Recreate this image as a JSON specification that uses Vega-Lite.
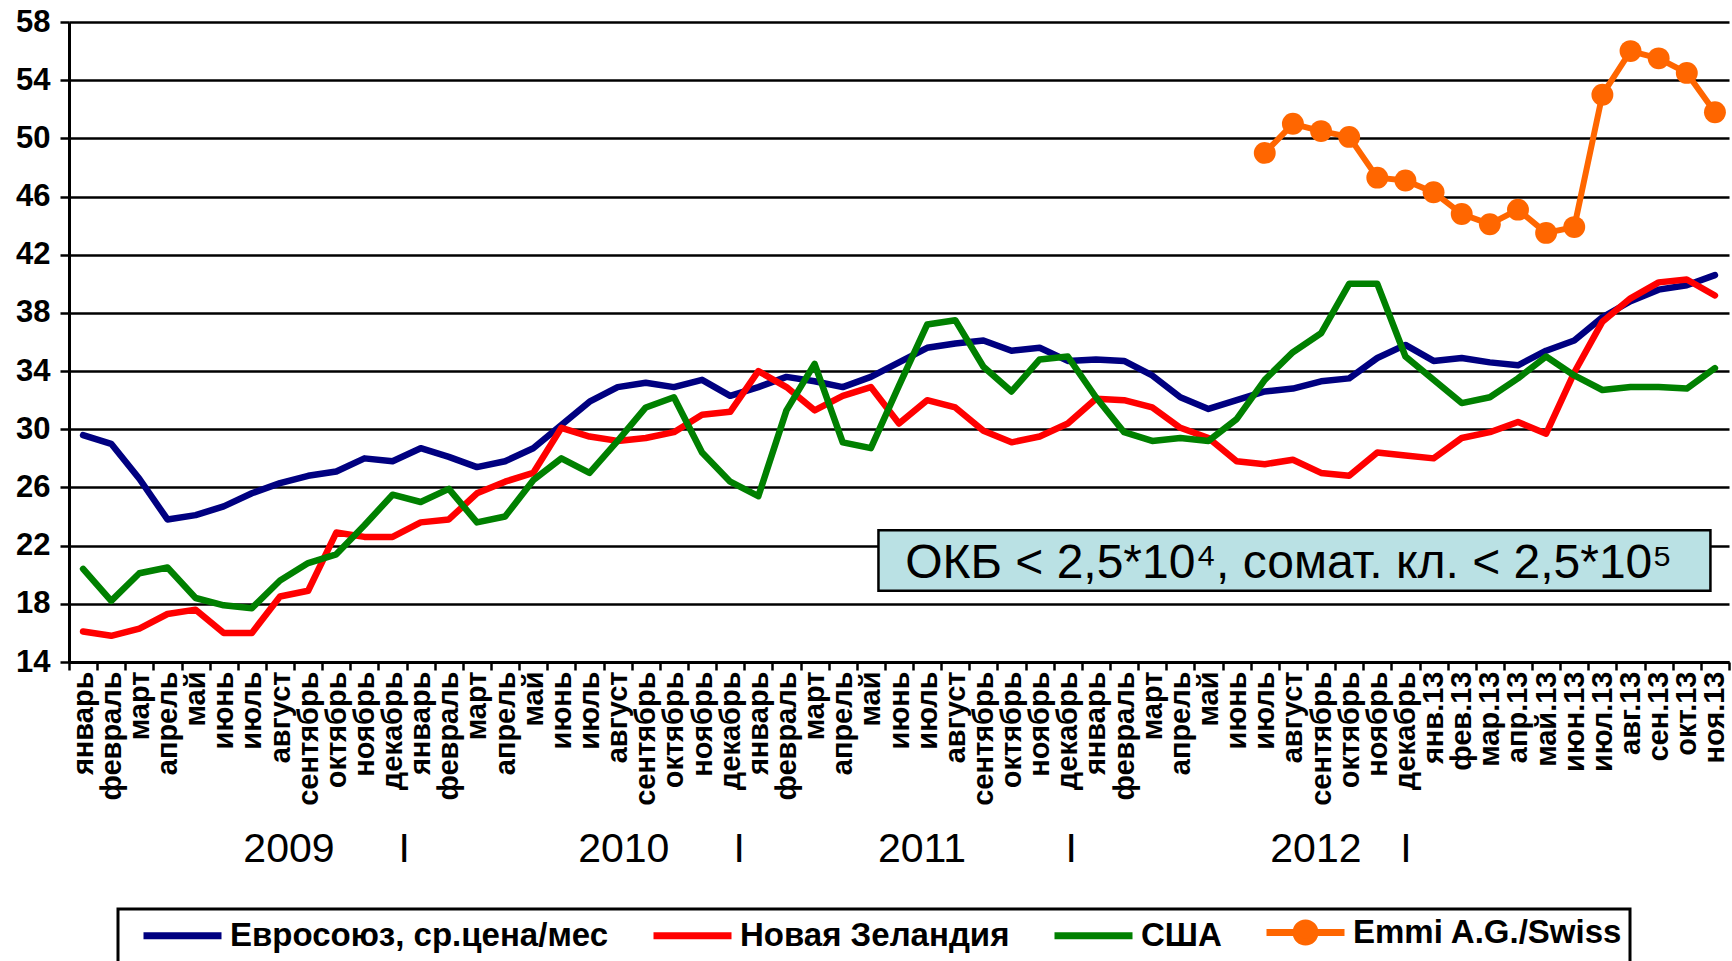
{
  "$schema": "https://vega.github.io/schema/vega-lite/v6.json",
  "width": 1660,
  "height": 640,
  "autosize": {"type": "none"},
  "padding": {"left": 69, "top": 22, "right": 3, "bottom": 299},
  "background": "white",
  "config": {"view": {"stroke": null}, "font": "Liberation Sans"},
  "datasets": {
    "eu": [
      {"i": 0, "month": "январь", "v": 29.6}, {"i": 1, "month": "февраль", "v": 29.0}, {"i": 2, "month": "март", "v": 26.6},
      {"i": 3, "month": "апрель", "v": 23.8}, {"i": 4, "month": "май", "v": 24.1}, {"i": 5, "month": "июнь", "v": 24.7},
      {"i": 6, "month": "июль", "v": 25.6}, {"i": 7, "month": "август", "v": 26.3}, {"i": 8, "month": "сентябрь", "v": 26.8},
      {"i": 9, "month": "октябрь", "v": 27.1}, {"i": 10, "month": "ноябрь", "v": 28.0}, {"i": 11, "month": "декабрь", "v": 27.8},
      {"i": 12, "month": "январь", "v": 28.7}, {"i": 13, "month": "февраль", "v": 28.1}, {"i": 14, "month": "март", "v": 27.4},
      {"i": 15, "month": "апрель", "v": 27.8}, {"i": 16, "month": "май", "v": 28.7}, {"i": 17, "month": "июнь", "v": 30.3},
      {"i": 18, "month": "июль", "v": 31.9}, {"i": 19, "month": "август", "v": 32.9}, {"i": 20, "month": "сентябрь", "v": 33.2},
      {"i": 21, "month": "октябрь", "v": 32.9}, {"i": 22, "month": "ноябрь", "v": 33.4}, {"i": 23, "month": "декабрь", "v": 32.3},
      {"i": 24, "month": "январь", "v": 32.9}, {"i": 25, "month": "февраль", "v": 33.6}, {"i": 26, "month": "март", "v": 33.3},
      {"i": 27, "month": "апрель", "v": 32.9}, {"i": 28, "month": "май", "v": 33.6}, {"i": 29, "month": "июнь", "v": 34.6},
      {"i": 30, "month": "июль", "v": 35.6}, {"i": 31, "month": "август", "v": 35.9}, {"i": 32, "month": "сентябрь", "v": 36.1},
      {"i": 33, "month": "октябрь", "v": 35.4}, {"i": 34, "month": "ноябрь", "v": 35.6}, {"i": 35, "month": "декабрь", "v": 34.7},
      {"i": 36, "month": "январь", "v": 34.8}, {"i": 37, "month": "февраль", "v": 34.7}, {"i": 38, "month": "март", "v": 33.7},
      {"i": 39, "month": "апрель", "v": 32.2}, {"i": 40, "month": "май", "v": 31.4}, {"i": 41, "month": "июнь", "v": 32.0},
      {"i": 42, "month": "июль", "v": 32.6}, {"i": 43, "month": "август", "v": 32.8}, {"i": 44, "month": "сентябрь", "v": 33.3},
      {"i": 45, "month": "октябрь", "v": 33.5}, {"i": 46, "month": "ноябрь", "v": 34.9}, {"i": 47, "month": "декабрь", "v": 35.8},
      {"i": 48, "month": "янв.13", "v": 34.7}, {"i": 49, "month": "фев.13", "v": 34.9}, {"i": 50, "month": "мар.13", "v": 34.6},
      {"i": 51, "month": "апр.13", "v": 34.4}, {"i": 52, "month": "май.13", "v": 35.4}, {"i": 53, "month": "июн.13", "v": 36.1},
      {"i": 54, "month": "июл.13", "v": 37.7}, {"i": 55, "month": "авг.13", "v": 38.8}, {"i": 56, "month": "сен.13", "v": 39.6},
      {"i": 57, "month": "окт.13", "v": 39.9}, {"i": 58, "month": "ноя.13", "v": 40.6}
    ],
    "nz": [
      {"i": 0, "v": 16.1}, {"i": 1, "v": 15.8}, {"i": 2, "v": 16.3}, {"i": 3, "v": 17.3}, {"i": 4, "v": 17.6},
      {"i": 5, "v": 16.0}, {"i": 6, "v": 16.0}, {"i": 7, "v": 18.5}, {"i": 8, "v": 18.9}, {"i": 9, "v": 22.9},
      {"i": 10, "v": 22.6}, {"i": 11, "v": 22.6}, {"i": 12, "v": 23.6}, {"i": 13, "v": 23.8}, {"i": 14, "v": 25.6},
      {"i": 15, "v": 26.4}, {"i": 16, "v": 27.0}, {"i": 17, "v": 30.1}, {"i": 18, "v": 29.5}, {"i": 19, "v": 29.2},
      {"i": 20, "v": 29.4}, {"i": 21, "v": 29.8}, {"i": 22, "v": 31.0}, {"i": 23, "v": 31.2}, {"i": 24, "v": 34.0},
      {"i": 25, "v": 32.9}, {"i": 26, "v": 31.3}, {"i": 27, "v": 32.3}, {"i": 28, "v": 32.9}, {"i": 29, "v": 30.4},
      {"i": 30, "v": 32.0}, {"i": 31, "v": 31.5}, {"i": 32, "v": 29.9}, {"i": 33, "v": 29.1}, {"i": 34, "v": 29.5},
      {"i": 35, "v": 30.4}, {"i": 36, "v": 32.1}, {"i": 37, "v": 32.0}, {"i": 38, "v": 31.5}, {"i": 39, "v": 30.1},
      {"i": 40, "v": 29.4}, {"i": 41, "v": 27.8}, {"i": 42, "v": 27.6}, {"i": 43, "v": 27.9}, {"i": 44, "v": 27.0},
      {"i": 45, "v": 26.8}, {"i": 46, "v": 28.4}, {"i": 47, "v": 28.2}, {"i": 48, "v": 28.0}, {"i": 49, "v": 29.4},
      {"i": 50, "v": 29.8}, {"i": 51, "v": 30.5}, {"i": 52, "v": 29.7}, {"i": 53, "v": 33.9}, {"i": 54, "v": 37.4},
      {"i": 55, "v": 39.0}, {"i": 56, "v": 40.1}, {"i": 57, "v": 40.3}, {"i": 58, "v": 39.2}
    ],
    "us": [
      {"i": 0, "v": 20.4}, {"i": 1, "v": 18.2}, {"i": 2, "v": 20.1}, {"i": 3, "v": 20.5}, {"i": 4, "v": 18.4},
      {"i": 5, "v": 17.9}, {"i": 6, "v": 17.7}, {"i": 7, "v": 19.6}, {"i": 8, "v": 20.8}, {"i": 9, "v": 21.4},
      {"i": 10, "v": 23.4}, {"i": 11, "v": 25.5}, {"i": 12, "v": 25.0}, {"i": 13, "v": 25.9}, {"i": 14, "v": 23.6},
      {"i": 15, "v": 24.0}, {"i": 16, "v": 26.5}, {"i": 17, "v": 28.0}, {"i": 18, "v": 27.0}, {"i": 19, "v": 29.2},
      {"i": 20, "v": 31.5}, {"i": 21, "v": 32.2}, {"i": 22, "v": 28.4}, {"i": 23, "v": 26.4}, {"i": 24, "v": 25.4},
      {"i": 25, "v": 31.3}, {"i": 26, "v": 34.5}, {"i": 27, "v": 29.1}, {"i": 28, "v": 28.7}, {"i": 29, "v": 33.0},
      {"i": 30, "v": 37.2}, {"i": 31, "v": 37.5}, {"i": 32, "v": 34.3}, {"i": 33, "v": 32.6}, {"i": 34, "v": 34.8},
      {"i": 35, "v": 35.0}, {"i": 36, "v": 32.2}, {"i": 37, "v": 29.8}, {"i": 38, "v": 29.2}, {"i": 39, "v": 29.4},
      {"i": 40, "v": 29.2}, {"i": 41, "v": 30.7}, {"i": 42, "v": 33.4}, {"i": 43, "v": 35.3}, {"i": 44, "v": 36.6},
      {"i": 45, "v": 40.0}, {"i": 46, "v": 40.0}, {"i": 47, "v": 35.0}, {"i": 48, "v": 33.4}, {"i": 49, "v": 31.8},
      {"i": 50, "v": 32.2}, {"i": 51, "v": 33.5}, {"i": 52, "v": 35.0}, {"i": 53, "v": 33.7}, {"i": 54, "v": 32.7},
      {"i": 55, "v": 32.9}, {"i": 56, "v": 32.9}, {"i": 57, "v": 32.8}, {"i": 58, "v": 34.2}
    ],
    "emmi": [
      {"i": 42, "v": 49.0}, {"i": 43, "v": 51.0}, {"i": 44, "v": 50.5}, {"i": 45, "v": 50.1}, {"i": 46, "v": 47.3},
      {"i": 47, "v": 47.1}, {"i": 48, "v": 46.3}, {"i": 49, "v": 44.8}, {"i": 50, "v": 44.1}, {"i": 51, "v": 45.1},
      {"i": 52, "v": 43.5}, {"i": 53, "v": 43.9}, {"i": 54, "v": 53.0}, {"i": 55, "v": 56.0}, {"i": 56, "v": 55.5},
      {"i": 57, "v": 54.5}, {"i": 58, "v": 51.8}
    ]
  },
  "layer": [
    {
      "data": {"values": [{"note": "ОКБ < 2,5*10⁴, сомат. кл. < 2,5*10⁵"}]},
      "mark": {"type": "rect", "fill": "#BAE1E4", "stroke": "black", "strokeWidth": 2.5},
      "encoding": {
        "x": {
          "datum": 28.27, "type": "quantitative",
          "scale": {"type": "linear", "domain": [-0.5, 58.5], "nice": false, "zero": false},
          "axis": {
            "orient": "bottom",
            "values": [0,1,2,3,4,5,6,7,8,9,10,11,12,13,14,15,16,17,18,19,20,21,22,23,24,25,26,27,28,29,30,31,32,33,34,35,36,37,38,39,40,41,42,43,44,45,46,47,48,49,50,51,52,53,54,55,56,57,58],
            "labelExpr": "datum.value < 48 ? ['январь','февраль','март','апрель','май','июнь','июль','август','сентябрь','октябрь','ноябрь','декабрь'][datum.value % 12] : ['янв.13','фев.13','мар.13','апр.13','май.13','июн.13','июл.13','авг.13','сен.13','окт.13','ноя.13'][datum.value - 48]",
            "labelAngle": -90, "labelAlign": "right", "labelBaseline": "middle",
            "labelFont": "Liberation Sans", "labelFontWeight": "bold", "labelFontSize": 29, "labelColor": "black",
            "labelPadding": 9, "labelOverlap": false, "labelFlush": false, "labelBound": false,
            "ticks": false, "domain": false, "grid": false, "title": null
          }
        },
        "x2": {"datum": 57.84},
        "y": {"datum": 18.9, "type": "quantitative"},
        "y2": {"datum": 23.06}
      }
    },
    {
      "data": {"values": [{"note": "ОКБ < 2,5*10⁴, сомат. кл. < 2,5*10⁵"}]},
      "mark": {"type": "text", "fontSize": 48, "font": "Liberation Sans", "color": "black", "align": "center", "baseline": "alphabetic"},
      "encoding": {
        "x": {
          "datum": 42.85, "type": "quantitative",
          "axis": {
            "orient": "bottom",
            "values": [7.3, 11.4, 19.2, 23.3, 29.8, 35.1, 43.8, 47.0],
            "labelExpr": "datum.value == 7.3 ? '2009' : datum.value == 19.2 ? '2010' : datum.value == 29.8 ? '2011' : datum.value == 43.8 ? '2012' : 'I'",
            "labelAngle": 0, "labelAlign": "center", "labelBaseline": "top",
            "labelFont": "Liberation Sans", "labelFontWeight": "normal", "labelFontSize": 41, "labelColor": "black",
            "labelPadding": 167, "labelOverlap": false, "labelFlush": false, "labelBound": false,
            "ticks": false, "domain": false, "grid": false, "title": null
          }
        },
        "y": {"datum": 19.76, "type": "quantitative"},
        "text": {"field": "note"}
      }
    },
    {
      "data": {"name": "eu"},
      "mark": {"type": "line", "strokeWidth": 6.5, "strokeJoin": "round", "strokeCap": "round"},
      "encoding": {
        "x": {
          "field": "i", "type": "quantitative",
          "axis": {
            "orient": "bottom",
            "values": [-0.5,0.5,1.5,2.5,3.5,4.5,5.5,6.5,7.5,8.5,9.5,10.5,11.5,12.5,13.5,14.5,15.5,16.5,17.5,18.5,19.5,20.5,21.5,22.5,23.5,24.5,25.5,26.5,27.5,28.5,29.5,30.5,31.5,32.5,33.5,34.5,35.5,36.5,37.5,38.5,39.5,40.5,41.5,42.5,43.5,44.5,45.5,46.5,47.5,48.5,49.5,50.5,51.5,52.5,53.5,54.5,55.5,56.5,57.5,58.5],
            "labels": false, "ticks": true, "tickSize": 8, "tickWidth": 2.5, "tickColor": "black",
            "domain": true, "domainColor": "black", "domainWidth": 3, "grid": false, "title": null
          }
        },
        "y": {
          "field": "v", "type": "quantitative",
          "scale": {"domain": [14, 58], "nice": false, "zero": false},
          "axis": {
            "values": [14, 18, 22, 26, 30, 34, 38, 42, 46, 50, 54, 58],
            "grid": true, "gridColor": "black", "gridWidth": 2.5, "gridOpacity": 1,
            "domain": true, "domainColor": "black", "domainWidth": 3,
            "ticks": true, "tickSize": 9, "tickColor": "black", "tickWidth": 2.5,
            "labelFont": "Liberation Sans", "labelFontWeight": "bold", "labelFontSize": 31, "labelColor": "black",
            "labelPadding": 10, "title": null
          }
        },
        "color": {
          "datum": "Евросоюз, ср.цена/мес", "type": "nominal",
          "scale": {
            "domain": ["Евросоюз, ср.цена/мес", "Новая Зеландия", "США", "Emmi A.G./Swiss"],
            "range": ["#000080", "#FF0000", "#008000", "#FF6600"]
          },
          "legend": {
            "orient": "none", "legendX": 49, "legendY": 887, "direction": "horizontal", "columns": 4,
            "gridAlign": "each", "columnPadding": 26,
            "symbolType": "M-3.9,0L3.9,0", "symbolSize": 400, "symbolStrokeWidth": 7, "symbolOffset": 41,
            "labelFont": "Liberation Sans", "labelFontWeight": "bold", "labelFontSize": 33, "labelColor": "black",
            "labelOffset": 31, "labelLimit": 0,
            "padding": 7, "strokeColor": "black", "fillColor": "white", "title": null,
            "encode": {
              "legend": {"update": {"strokeWidth": {"value": 3}}},
              "symbols": {
                "update": {
                  "shape": {"signal": "datum.value === 'Emmi A.G./Swiss' ? 'M-3.9,0L3.9,0M0.95,0A0.95,0.95,0,1,1,-0.95,0A0.95,0.95,0,1,1,0.95,0Z' : 'M-3.9,0L3.9,0'"},
                  "fill": {"scale": "color", "field": "value"}
                }
              }
            }
          }
        }
      }
    },
    {
      "data": {"name": "nz"},
      "mark": {"type": "line", "strokeWidth": 6.5, "strokeJoin": "round", "strokeCap": "round"},
      "encoding": {
        "x": {"field": "i", "type": "quantitative", "axis": null},
        "y": {"field": "v", "type": "quantitative"},
        "color": {"datum": "Новая Зеландия", "type": "nominal"}
      }
    },
    {
      "data": {"name": "us"},
      "mark": {"type": "line", "strokeWidth": 6.5, "strokeJoin": "round", "strokeCap": "round"},
      "encoding": {
        "x": {"field": "i", "type": "quantitative", "axis": null},
        "y": {"field": "v", "type": "quantitative"},
        "color": {"datum": "США", "type": "nominal"}
      }
    },
    {
      "data": {"name": "emmi"},
      "mark": {"type": "line", "strokeWidth": 6, "strokeJoin": "round", "strokeCap": "round"},
      "encoding": {
        "x": {"field": "i", "type": "quantitative", "axis": null},
        "y": {"field": "v", "type": "quantitative"},
        "color": {"datum": "Emmi A.G./Swiss", "type": "nominal"}
      }
    },
    {
      "data": {"name": "emmi"},
      "mark": {"type": "circle", "size": 480, "opacity": 1},
      "encoding": {
        "x": {"field": "i", "type": "quantitative", "axis": null},
        "y": {"field": "v", "type": "quantitative"},
        "color": {"datum": "Emmi A.G./Swiss", "type": "nominal"}
      }
    }
  ],
  "resolve": {"axis": {"x": "independent"}}
}
